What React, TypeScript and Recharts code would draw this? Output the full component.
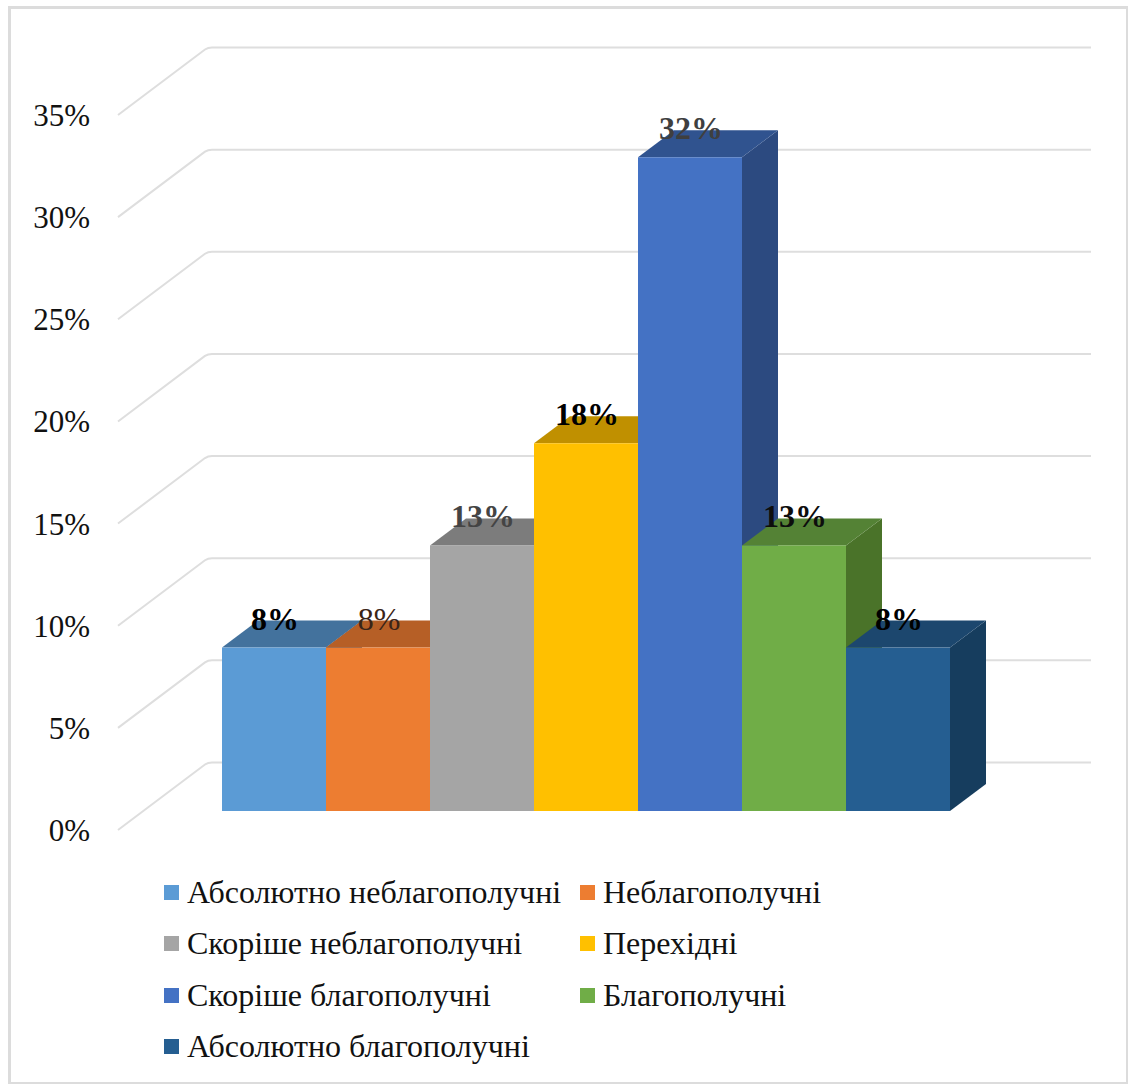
import React from "react"
import { Bar, BarChart, CartesianGrid, LabelList, Legend, XAxis, YAxis } from "recharts"

const FONT = "'Liberation Serif', serif"
const DEPTH_X = 36
const DEPTH_Y = 27
const FRONT_DX = 27
const FRONT_DY = -19
const WALL_X = 90
const WALL_Y = 67.5

const seriesNames = [
  "Абсолютно неблагополучні",
  "Неблагополучні",
  "Скоріше неблагополучні",
  "Перехідні",
  "Скоріше благополучні",
  "Благополучні",
  "Абсолютно благополучні",
]
const seriesValues = [8, 8, 13, 18, 32, 13, 8]
const frontColors = ["#5b9bd5", "#ed7d31", "#a5a5a5", "#ffc000", "#4472c4", "#70ad47", "#255e91"]
const topColors = ["#43729d", "#b65f26", "#7c7c7c", "#c09000", "#30538f", "#548235", "#1c476e"]
const sideColors = ["#3a6590", "#a35521", "#6f6f6f", "#ad8200", "#2c4a80", "#4a7329", "#163d5e"]
const labelColors = ["#000", "#3a2418", "#444", "#000", "#3f3f3f", "#0d0d0d", "#000"]
const labelWeights = ["bold", "normal", "bold", "bold", "bold", "bold", "bold"]
const yTicks = [0, 5, 10, 15, 20, 25, 30, 35]

const row: Record<string, string | number> = { category: "" }
seriesNames.forEach((name, i) => {
  row[name] = seriesValues[i]
})
const chartData = [row]

function Box3D(props: any, i: number) {
  const { x, y, width, height } = props
  const left = x + FRONT_DX
  const top = y + FRONT_DY
  const right = left + width
  const bottom = top + height
  return (
    <g>
      <polygon
        points={`${right},${top} ${right + DEPTH_X},${top - DEPTH_Y} ${right + DEPTH_X},${bottom - DEPTH_Y} ${right},${bottom}`}
        fill={sideColors[i]}
      />
      <polygon
        points={`${left},${top} ${left + DEPTH_X},${top - DEPTH_Y} ${right + DEPTH_X},${top - DEPTH_Y} ${right},${top}`}
        fill={topColors[i]}
      />
      <rect x={left} y={top} width={width} height={height} fill={frontColors[i]} />
    </g>
  )
}

function BarLabel(props: any, i: number) {
  const { x, y, width, value } = props
  return (
    <text
      x={x + width / 2 + FRONT_DX + 1}
      y={y - 37}
      textAnchor="middle"
      fontFamily={FONT}
      fontSize={32}
      fontWeight={labelWeights[i]}
      fill={labelColors[i]}
    >
      {value}%
    </text>
  )
}

// wall gridline: runs up the side wall, then along the back wall
function WallLine(props: any) {
  const { x1, y1, x2, key } = props
  return (
    <path
      key={key}
      d={`M${x1},${y1} L${x1 + WALL_X - 3},${y1 - WALL_Y + 2} Q${x1 + WALL_X},${y1 - WALL_Y} ${x1 + WALL_X + 4},${y1 - WALL_Y} L${x2 + WALL_X},${y1 - WALL_Y}`}
      fill="none"
      stroke="#dedede"
      strokeWidth={2}
    />
  )
}

function LegendGrid({ payload }: any) {
  return (
    <div
      style={{
        display: "grid",
        gridTemplateColumns: "416px 416px",
        gridAutoRows: "51.3px",
        fontFamily: FONT,
        fontSize: 32,
        color: "#111",
      }}
    >
      {(payload || []).map((p: any) => (
        <div key={p.value} style={{ display: "flex", alignItems: "center", whiteSpace: "nowrap" }}>
          <span style={{ width: 15, height: 15, background: p.color, marginRight: 8, flex: "none" }} />
          {p.value}
        </div>
      ))}
    </div>
  )
}

export default function App() {
  return (
    <div style={{ position: "absolute", left: 0, top: 0, width: 1128, height: 1084, background: "#fff" }}>
      <div
        style={{
          position: "absolute",
          left: 8,
          top: 6,
          width: 1115,
          height: 1073,
          border: "3px solid #dcdcdc",
        }}
      />
      <BarChart
        width={1128}
        height={1084}
        data={chartData}
        margin={{ top: 115, right: 127, bottom: 254, left: 0 }}
        barGap={0}
        barCategoryGap={77}
      >
        <CartesianGrid vertical={false} horizontal={WallLine} />
        <XAxis dataKey="category" hide />
        <YAxis
          width={118}
          domain={[0, 35]}
          ticks={yTicks}
          tickFormatter={(v: number) => `${v}%`}
          tickLine={false}
          axisLine={false}
          tickSize={0}
          tickMargin={28}
          tick={{ fontFamily: FONT, fontSize: 31, fill: "#111" }}
        />
        <Legend
          layout="horizontal"
          verticalAlign="middle"
          align="center"
          itemSorter={null}
          wrapperStyle={{ left: 164, top: 867, width: 860 }}
          content={LegendGrid}
        />
        {seriesNames.map((name, i) => (
          <Bar
            key={name}
            dataKey={name}
            name={name}
            fill={frontColors[i]}
            isAnimationActive={false}
            shape={(p: any) => Box3D(p, i)}
          >
            <LabelList dataKey={name} content={(p: any) => BarLabel(p, i)} />
          </Bar>
        ))}
      </BarChart>
    </div>
  )
}
